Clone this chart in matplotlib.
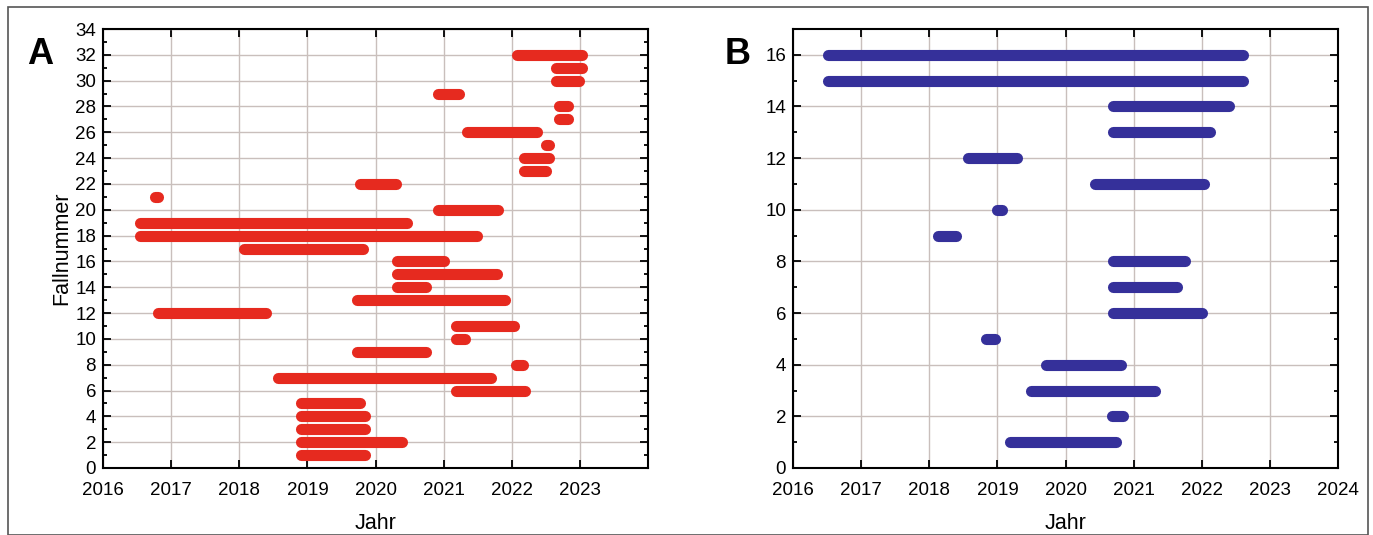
import matplotlib.pyplot as plt
from matplotlib.patches import Rectangle
from matplotlib.ticker import MultipleLocator

plt.rcParams['font.family'] = ['Liberation Sans', 'DejaVu Sans']

# Panel A: case number, start, end (years)
a_case = list(range(1, 33))
a_start = [2018.91, 2018.91, 2018.91, 2018.91, 2018.91, 2021.18, 2018.57, 2022.06,
           2019.73, 2021.18, 2021.18, 2016.81, 2019.73, 2020.32, 2020.32, 2020.32,
           2018.07, 2016.54, 2016.54, 2020.92, 2016.77, 2019.77, 2022.18, 2022.18,
           2022.50, 2021.35, 2022.70, 2022.70, 2020.92, 2022.65, 2022.65, 2022.08]
a_end = [2019.85, 2020.39, 2019.85, 2019.85, 2019.77, 2022.20, 2021.70, 2022.17,
         2020.74, 2021.32, 2022.04, 2018.39, 2021.90, 2020.74, 2021.79, 2021.01,
         2019.82, 2021.49, 2020.46, 2021.80, 2016.81, 2020.30, 2022.50, 2022.55,
         2022.55, 2022.37, 2022.83, 2022.83, 2021.23, 2022.99, 2023.03, 2023.03]

# Panel B
b_case = list(range(1, 17))
b_start = [2019.19, 2020.68, 2019.49, 2019.72, 2018.83, 2020.70, 2020.70, 2020.70,
           2018.13, 2019.00, 2020.43, 2018.57, 2020.70, 2020.70, 2016.51, 2016.51]
b_end = [2020.74, 2020.85, 2021.31, 2020.82, 2018.97, 2022.00, 2021.64, 2021.76,
         2018.39, 2019.07, 2022.03, 2019.29, 2022.12, 2022.40, 2022.61, 2022.61]

red = '#e62a1f'
blue = '#35309a'

fig = plt.figure(figsize=(13.73, 5.35), dpi=100)
fig.patches.append(Rectangle((8 / 1373, 0), 1360 / 1373, 1 - 7 / 535,
                             transform=fig.transFigure, fill=False,
                             edgecolor='#555555', linewidth=1.2))

axA = fig.add_axes([103 / 1373, 1 - 468 / 535, 545 / 1373, 439 / 535])
axB = fig.add_axes([793 / 1373, 1 - 468 / 535, 545 / 1373, 439 / 535])


def style(ax, ymax, ymajor, xlabels):
    ax.set_xlim(2016, 2024)
    ax.set_ylim(0, ymax)
    ax.set_xticks(range(2016, 2025))
    ax.set_xticklabels(xlabels)
    ax.yaxis.set_major_locator(MultipleLocator(ymajor))
    ax.yaxis.set_minor_locator(MultipleLocator(1))
    ax.tick_params(which='both', direction='in', top=True, right=True,
                   labelsize=13.5, width=1.3)
    ax.tick_params(which='major', length=6)
    ax.tick_params(axis='x', which='major', pad=10)
    ax.tick_params(axis='y', which='major', pad=5)
    ax.tick_params(which='minor', length=3)
    ax.grid(True, which='major', color='#c9bfbc', linewidth=1.0)
    ax.set_axisbelow(True)
    for s in ax.spines.values():
        s.set_linewidth(1.5)
    ax.set_xlabel('Jahr', fontsize=15.5, labelpad=10)


labelsA = [str(y) for y in range(2016, 2024)] + ['']
labelsB = [str(y) for y in range(2016, 2025)]

for c, s, e in zip(a_case, a_start, a_end):
    axA.plot([s, e], [c, c], color=red, lw=8, solid_capstyle='round')
for c, s, e in zip(b_case, b_start, b_end):
    axB.plot([s, e], [c, c], color=blue, lw=8, solid_capstyle='round')

style(axA, 34, 2, labelsA)
style(axB, 17, 2, labelsB)
axA.set_ylabel('Fallnummer', fontsize=15.5, labelpad=2)

fig.text(40 / 1373, 1 - 55 / 535, 'A', fontsize=26, fontweight='bold',
         ha='center', va='center')
fig.text(738 / 1373, 1 - 55 / 535, 'B', fontsize=26, fontweight='bold',
         ha='center', va='center')

fig.savefig('out.png', dpi=100)
